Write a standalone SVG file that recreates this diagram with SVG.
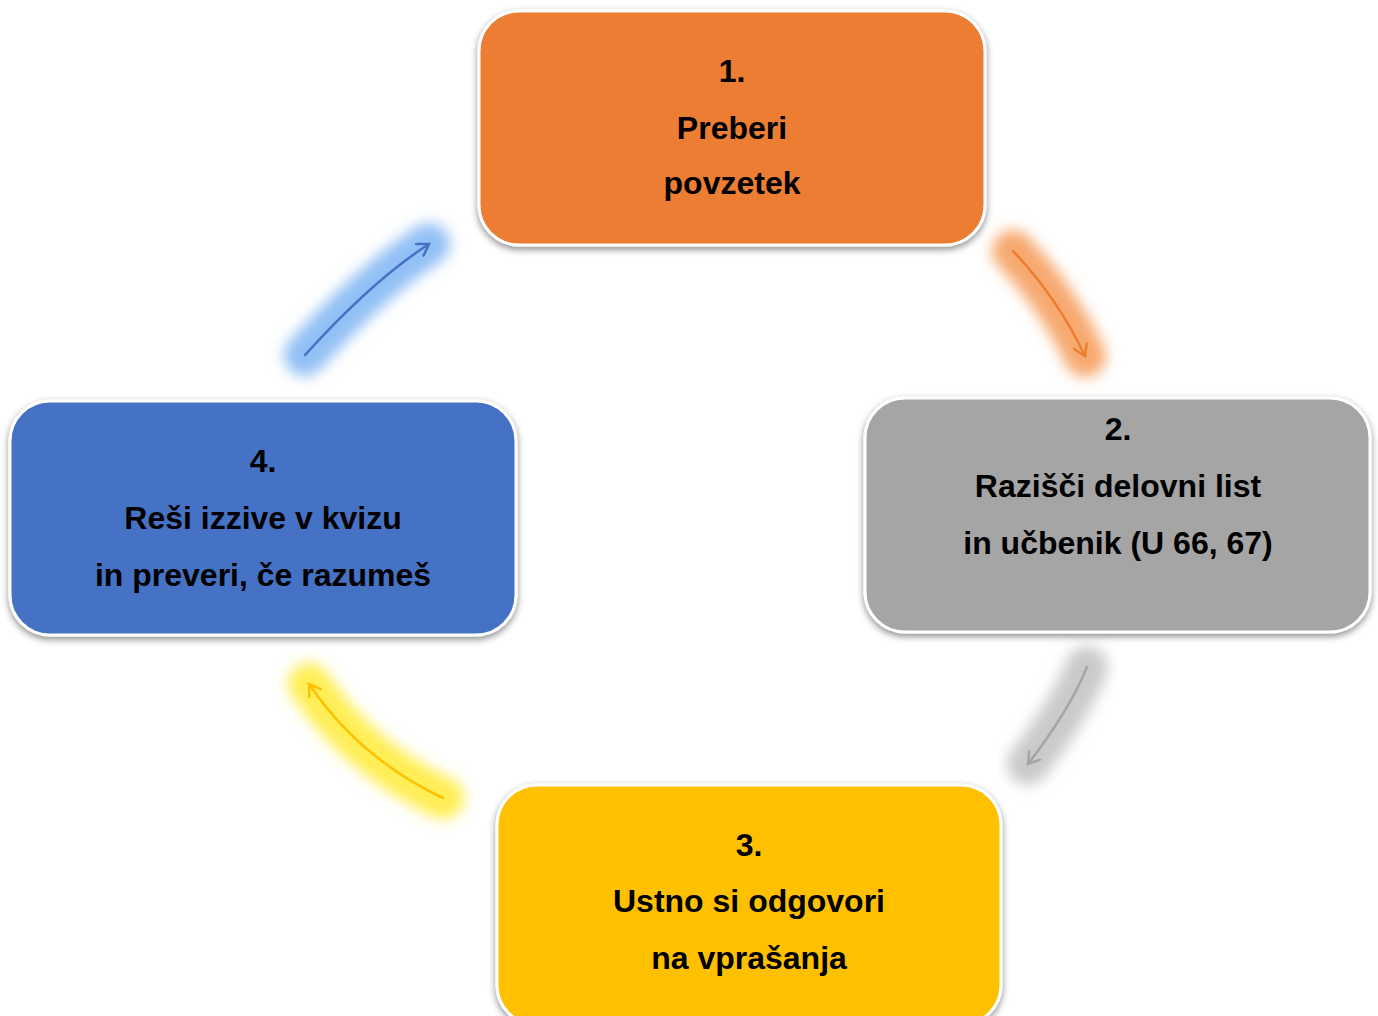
<svg xmlns="http://www.w3.org/2000/svg" width="1378" height="1016" viewBox="0 0 1378 1016">
<style>
.box{stroke:#ffffff;stroke-width:3;filter:url(#sh)}
.t{font-family:"Liberation Sans",Arial,sans-serif;font-weight:bold;font-size:32px;fill:#000;text-anchor:middle}
.glow{fill:none;stroke-width:42;stroke-linecap:round;filter:url(#blur)}
.arr{fill:none;stroke-width:2.5;stroke-linecap:round}
</style>
<defs>
<filter id="sh" x="-10%" y="-10%" width="120%" height="130%">
<feDropShadow dx="0" dy="3" stdDeviation="3.5" flood-color="#000" flood-opacity="0.45"/>
</filter>
<filter id="blur" x="-50%" y="-50%" width="200%" height="200%">
<feGaussianBlur stdDeviation="7"/>
</filter>
<marker id="mo" markerWidth="16" markerHeight="16" refX="12" refY="8" orient="auto" markerUnits="userSpaceOnUse"><path d="M1,1 L12,8 L1,15" fill="none" stroke="#ED7D31" stroke-width="2.5" stroke-linecap="round"/></marker>
<marker id="mg" markerWidth="16" markerHeight="16" refX="12" refY="8" orient="auto" markerUnits="userSpaceOnUse"><path d="M1,1 L12,8 L1,15" fill="none" stroke="#A5A5A5" stroke-width="2.5" stroke-linecap="round"/></marker>
<marker id="my" markerWidth="16" markerHeight="16" refX="12" refY="8" orient="auto" markerUnits="userSpaceOnUse"><path d="M1,1 L12,8 L1,15" fill="none" stroke="#FFC000" stroke-width="2.5" stroke-linecap="round"/></marker>
<marker id="mb" markerWidth="16" markerHeight="16" refX="12" refY="8" orient="auto" markerUnits="userSpaceOnUse"><path d="M1,1 L12,8 L1,15" fill="none" stroke="#4472C4" stroke-width="2.5" stroke-linecap="round"/></marker>
</defs>
<rect width="1378" height="1016" fill="#ffffff"/>
<g id="connectors">
<path class="glow" d="M1013,251 Q1057,297 1085,356" stroke="#F7A970"/>
<path class="glow" d="M1087,667 Q1069,711 1028,764" stroke="#CACACA"/>
<path class="glow" d="M443,798 Q360,759 309,684" stroke="#FFEE55"/>
<path class="glow" d="M305,355 Q373,280 429,244" stroke="#92C0F5"/>
<path class="arr" d="M1013,251 Q1057,297 1085,356" stroke="#ED7D31" marker-end="url(#mo)"/>
<path class="arr" d="M1087,667 Q1069,711 1028,764" stroke="#A5A5A5" marker-end="url(#mg)"/>
<path class="arr" d="M443,798 Q360,759 309,684" stroke="#FFC000" marker-end="url(#my)"/>
<path class="arr" d="M305,355 Q373,280 429,244" stroke="#4472C4" marker-end="url(#mb)"/>
</g>
<g id="node1">
<rect class="box" x="479" y="11" width="506" height="234" rx="40" fill="#ED7D31"/>
<text class="t" x="732" y="82">1.</text>
<text class="t" x="732" y="139">Preberi</text>
<text class="t" x="732" y="194">povzetek</text>
</g>
<g id="node2">
<rect class="box" x="865" y="398" width="505" height="234" rx="40" fill="#A5A5A5"/>
<text class="t" x="1118" y="440">2.</text>
<text class="t" x="1118" y="497">Razišči delovni list</text>
<text class="t" x="1118" y="554">in učbenik (U 66, 67)</text>
</g>
<g id="node3">
<rect class="box" x="497" y="785" width="504" height="240" rx="40" fill="#FFC000"/>
<text class="t" x="749" y="856">3.</text>
<text class="t" x="749" y="912">Ustno si odgovori</text>
<text class="t" x="749" y="969">na vprašanja</text>
</g>
<g id="node4">
<rect class="box" x="10" y="401" width="506" height="234" rx="40" fill="#4472C4"/>
<text class="t" x="263" y="472">4.</text>
<text class="t" x="263" y="529">Reši izzive v kvizu</text>
<text class="t" x="263" y="586">in preveri, če razumeš</text>
</g>
</svg>
